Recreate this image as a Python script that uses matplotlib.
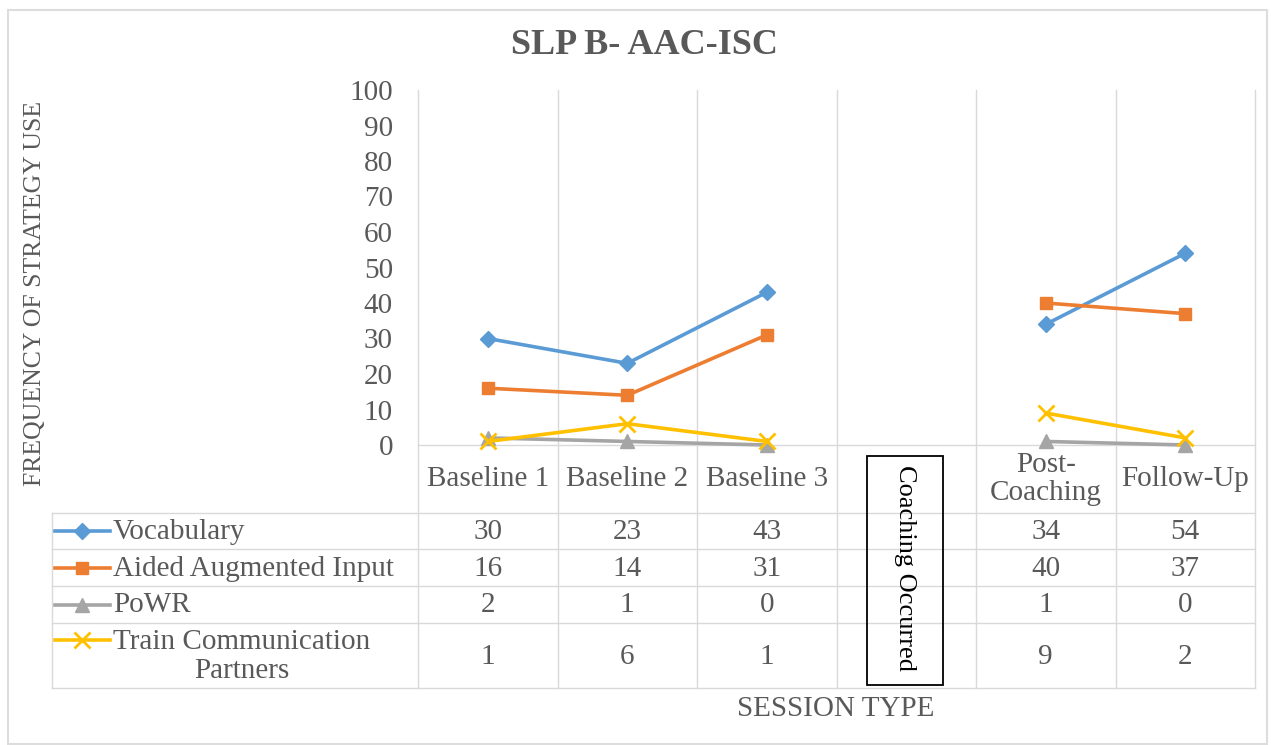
import numpy as np
import matplotlib
matplotlib.use("Agg")
import matplotlib.pyplot as plt
from matplotlib.lines import Line2D
from matplotlib.patches import Rectangle

# ---- data ----
categories = ["Baseline 1", "Baseline 2", "Baseline 3", "", "Post-\nCoaching", "Follow-Up"]
series_names = ["Vocabulary", "Aided Augmented Input", "PoWR", "Train Communication\nPartners"]
vocabulary = [30, 23, 43, None, 34, 54]
aided_input = [16, 14, 31, None, 40, 37]
powr = [2, 1, 0, None, 1, 0]
train_partners = [1, 6, 1, None, 9, 2]
y_ticks = list(range(0, 101, 10))
title = "SLP B- AAC-ISC"
y_label = "FREQUENCY OF STRATEGY USE"
x_label = "SESSION TYPE"
gap_label = "Coaching Occurred"

series_values = [vocabulary, aided_input, powr, train_partners]
colors = ["#5B9BD5", "#ED7D31", "#A5A5A5", "#FFC000"]
markers = ["D", "s", "^", "x"]
msizes = [8, 9, 10, 11]

W, H = 1271, 745
FONT = "Liberation Serif"
TXT = "#595959"
GRID = "#D9D9D9"
FS = 21

fig = plt.figure(figsize=(W / 100, H / 100), dpi=100)
fig.patch.set_facecolor("white")

def fx(x):
    return x / W

def fy(y):
    return 1 - y / H

def hline(x0, x1, y, color=GRID, lw=1.0):
    fig.add_artist(Line2D([fx(x0), fx(x1)], [fy(y), fy(y)], transform=fig.transFigure,
                          color=color, lw=lw, zorder=0))

def vline(x, y0, y1, color=GRID, lw=1.0):
    fig.add_artist(Line2D([fx(x), fx(x)], [fy(y0), fy(y1)], transform=fig.transFigure,
                          color=color, lw=lw, zorder=0))

# outer border
fig.add_artist(Rectangle((fx(8), fy(744)), fx(1267) - fx(8), fy(10) - fy(744),
                         transform=fig.transFigure, fill=False, edgecolor="#DDDDDD", lw=1.5))

# plot axes
ax_left, ax_right, ax_top, ax_bottom = 418, 1255, 90, 445
ax = fig.add_axes([fx(ax_left), fy(ax_bottom), fx(ax_right) - fx(ax_left), fy(ax_top) - fy(ax_bottom)])
ax.set_facecolor("none")
n = len(categories)
ax.set_xlim(0, n)
ax.set_ylim(0, 100)
xs = np.arange(n) + 0.5
for vals, c, m, ms in zip(series_values, colors, markers, msizes):
    arr = np.array([np.nan if v is None else v for v in vals], dtype=float)
    ax.plot(xs, arr, color=c, lw=2.6, marker=m, markersize=ms,
            markeredgewidth=2 if m == "x" else 1, markeredgecolor=c, markerfacecolor=c,
            clip_on=False, zorder=3)
for s in ["top", "right", "left"]:
    ax.spines[s].set_visible(False)
ax.spines["bottom"].set_color(GRID)
ax.spines["bottom"].set_linewidth(1.0)
ax.set_xticks([])
ax.set_yticks(y_ticks)
ax.set_yticklabels([str(t) for t in y_ticks], fontfamily=FONT, fontsize=FS, color=TXT)
ax.tick_params(axis="y", length=0, pad=18)

# grid / table lines
col_w = (ax_right - ax_left) / n
col_edges = [ax_left + i * col_w for i in range(n + 1)]
table_left = 52
row_edges = [513, 549, 586, 623, 688]
for x in col_edges:
    vline(x, ax_top, row_edges[-1])
for y in row_edges:
    hline(table_left, ax_right, y)
vline(table_left, row_edges[0], row_edges[-1])

# category labels
col_centers = [ax_left + (i + 0.5) * col_w for i in range(n)]
for cx, lab in zip(col_centers, categories):
    if lab:
        fig.text(fx(cx), fy(479), lab, ha="center", va="center", fontfamily=FONT,
                 fontsize=FS, color=TXT, linespacing=1.1)

# table rows
row_centers = [(row_edges[i] + row_edges[i + 1]) / 2 for i in range(4)]
for name, vals, c, m, ms, ry in zip(series_names, series_values, colors, markers, msizes, row_centers):
    ky = ry if "\n" not in name else 640
    fig.add_artist(Line2D([fx(55), fx(110)], [fy(ky), fy(ky)], transform=fig.transFigure,
                          color=c, lw=2.6))
    fig.add_artist(Line2D([fx(82)], [fy(ky)], transform=fig.transFigure, color=c,
                          marker=m, markersize=ms, markeredgewidth=2 if m == "x" else 1,
                          markeredgecolor=c, markerfacecolor=c))
    fig.text(fx(113), fy(ry + 1), name, ha="left", va="center", multialignment="center",
             fontfamily=FONT, fontsize=FS, color=TXT, linespacing=1.15)
    for cx, v in zip(col_centers, vals):
        if v is not None:
            fig.text(fx(cx), fy(ry + 1), str(v), ha="center", va="center", fontfamily=FONT,
                     fontsize=FS, color=TXT)

# coaching box
fig.add_artist(Rectangle((fx(867), fy(685)), fx(943) - fx(867), fy(456) - fy(685),
                         transform=fig.transFigure, fill=False, edgecolor="black", lw=1.3))
fig.text(fx(905), fy(568), gap_label, rotation=-90, ha="center", va="center",
         fontfamily=FONT, fontsize=19, color="black")

# axis labels and title
fig.text(fx(35), fy(293), y_label, rotation=90, ha="center", va="center",
         fontfamily=FONT, fontsize=18.5, color=TXT)
fig.text(fx(836), fy(709), x_label, ha="center", va="center",
         fontfamily=FONT, fontsize=FS, color=TXT)
fig.text(fx(644), fy(46), title, ha="center", va="center", fontfamily=FONT,
         fontsize=26, fontweight="bold", color=TXT)

fig.savefig("out.png", dpi=100)
